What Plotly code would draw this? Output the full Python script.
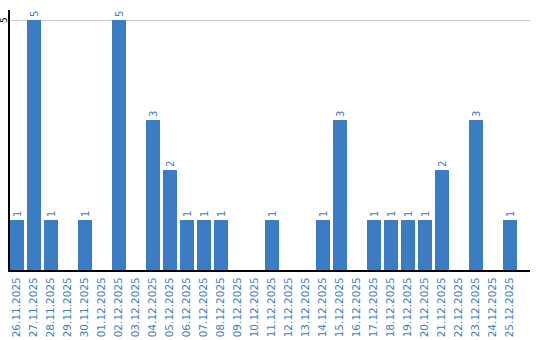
import plotly.graph_objects as go

dates = ["26.11.2025","27.11.2025","28.11.2025","29.11.2025","30.11.2025",
         "01.12.2025","02.12.2025","03.12.2025","04.12.2025","05.12.2025",
         "06.12.2025","07.12.2025","08.12.2025","09.12.2025","10.12.2025",
         "11.12.2025","12.12.2025","13.12.2025","14.12.2025","15.12.2025",
         "16.12.2025","17.12.2025","18.12.2025","19.12.2025","20.12.2025",
         "21.12.2025","22.12.2025","23.12.2025","24.12.2025","25.12.2025"]
counts = [1,5,1,0,1, 0,5,0,3,2, 1,1,1,0,0, 1,0,0,1,3, 0,1,1,1,1, 2,0,3,0,1]

blue = "#3b7dc4"
labels = [str(v) if v > 0 else "" for v in counts]

fig = go.Figure(go.Bar(
    x=dates, y=counts, marker_color=blue, marker_line_width=0,
    text=labels, textposition="outside", textangle=-90,
    textfont=dict(family="DejaVu Sans", size=10, color=blue),
    cliponaxis=False,
))
fig.update_layout(
    width=540, height=340,
    margin=dict(l=10, r=10, t=10, b=70),
    paper_bgcolor="white", plot_bgcolor="white",
    bargap=0.176, showlegend=False,
    xaxis=dict(type="category", tickangle=-90, showgrid=False, automargin=False,
               range=[-0.412, 30.176],
               showline=True, linecolor="black", linewidth=2,
               ticks="", ticklabelstandoff=1,
               tickfont=dict(family="DejaVu Sans", size=10.5, color=blue)),
    yaxis=dict(range=[0, 5.2], tickvals=[5], showticklabels=False,
               automargin=False,
               showgrid=True, gridcolor="#cccccc", gridwidth=1,
               showline=True, linecolor="black", linewidth=2, zeroline=False,
               ticks=""),
    annotations=[dict(text="5", xref="paper", yref="y", x=0, y=5,
                      xanchor="right", yanchor="middle", xshift=0,
                      textangle=-90, showarrow=False, borderpad=0,
                      font=dict(family="DejaVu Sans", size=9, color="black"))],
)
fig.write_html("out.html")
